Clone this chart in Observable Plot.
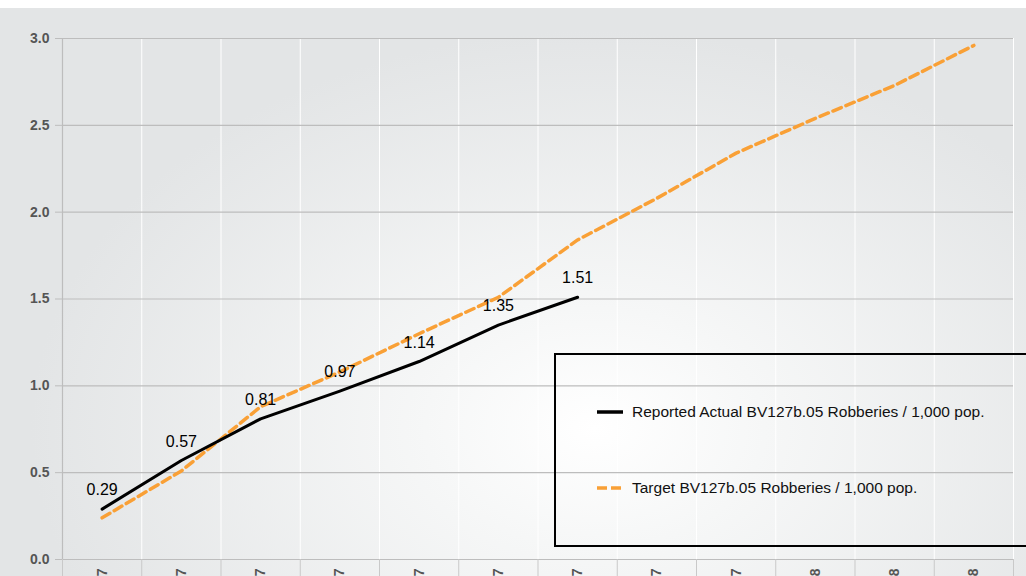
<!DOCTYPE html>
<html>
<head>
<meta charset="utf-8">
<script src="https://cdn.jsdelivr.net/npm/d3@7"></script>
<script src="https://cdn.jsdelivr.net/npm/@observablehq/plot@0.6"></script>
<style>
  html, body { margin: 0; padding: 0; background: #fff; overflow: hidden; width: 1026px; height: 576px; }
  #wrap { position: absolute; left: 0; top: 8px; width: 1026px; height: 568px;
    background: radial-gradient(ellipse 55% 70% at 58% 74%, #ffffff 0%, #f6f7f7 30%, #e3e5e6 100%);
    font-family: "Liberation Sans", Arial, sans-serif; }
  #legend { position: absolute; left: 554px; top: 345px; width: 480px; height: 194px;
    border: 2px solid #000; box-sizing: border-box; }
  .item { position: absolute; left: 41px; font-size: 15.5px; line-height: 18px; color: #111; white-space: nowrap; display: flex; align-items: center; }
  .item svg { margin-right: 9px; }
</style>
</head>
<body>
<div id="wrap">
  <div id="chart"></div>
  <div id="legend">
    <div class="item" style="top:48px"><svg width="26" height="6"><line x1="0" x2="26" y1="3" y2="3" stroke="#000" stroke-width="3.5"/></svg>Reported Actual BV127b.05 Robberies / 1,000 pop.</div>
    <div class="item" style="top:124px"><svg width="26" height="6"><line x1="0" x2="26" y1="3" y2="3" stroke="#f9a036" stroke-width="3.5" stroke-dasharray="10,4"/></svg>Target BV127b.05 Robberies / 1,000 pop.</div>
  </div>
</div>
<script>
const months = ["Apr-07","May-07","Jun-07","Jul-07","Aug-07","Sep-07","Oct-07","Nov-07","Dec-07","Jan-08","Feb-08","Mar-08"];
const actual = [0.29, 0.57, 0.81, 0.97, 1.14, 1.35, 1.51];
const target = [0.24, 0.51, 0.88, 1.08, 1.30, 1.51, 1.84, 2.08, 2.34, 2.54, 2.73, 2.96];
const yTicks = [0, 0.5, 1.0, 1.5, 2.0, 2.5, 3.0];

const idx = months.map((m, i) => i);
const bounds = months.map((m, i) => i - 0.5).concat([months.length - 0.5]);
const actualData = actual.map((v, i) => ({i, v}));
const targetData = target.map((v, i) => ({i, v}));
const fmt = d3.format(".2f");

const chart = Plot.plot({
  width: 1026,
  height: 568,
  marginTop: 30,
  marginBottom: 17,
  marginLeft: 62,
  marginRight: 13,
  style: {background: "transparent", fontFamily: "'Liberation Sans', Arial, sans-serif"},
  x: {type: "linear", domain: [-0.5, months.length - 0.5]},
  y: {domain: [0, 3]},
  marks: [
    Plot.gridX(bounds, {stroke: "#ffffff", strokeOpacity: 1, strokeWidth: 1}),
    Plot.gridY(yTicks, {stroke: "#bdbdbd", strokeOpacity: 1, strokeWidth: 1.2}),
    Plot.ruleX([-0.5], {stroke: "#bdbdbd", strokeWidth: 1.2}),
    Plot.axisY({ticks: yTicks, tickFormat: d3.format(".1f"), tickSize: 7, tickPadding: 6, stroke: "#bdbdbd", fill: "#555", fontWeight: "bold", fontSize: 14, label: null}),
    Plot.axisX({ticks: bounds, tickSize: 24, tickFormat: () => "", stroke: "#c9c9c9", label: null}),
    Plot.axisX({ticks: idx, tickSize: 0, tickPadding: 9, tickRotate: -90, tickFormat: i => months[i], fill: "#555", fontWeight: "bold", fontSize: 14, label: null}),
    Plot.line(targetData, {x: "i", y: "v", stroke: "#f9a036", strokeWidth: 3.5, strokeDasharray: "9,5"}),
    Plot.line(actualData, {x: "i", y: "v", stroke: "#000", strokeWidth: 3}),
    Plot.text(actualData, {x: "i", y: "v", text: d => fmt(d.v), dy: -19, fontSize: 16, fill: "#000"})
  ]
});
document.getElementById("chart").appendChild(chart);
</script>
</body>
</html>
